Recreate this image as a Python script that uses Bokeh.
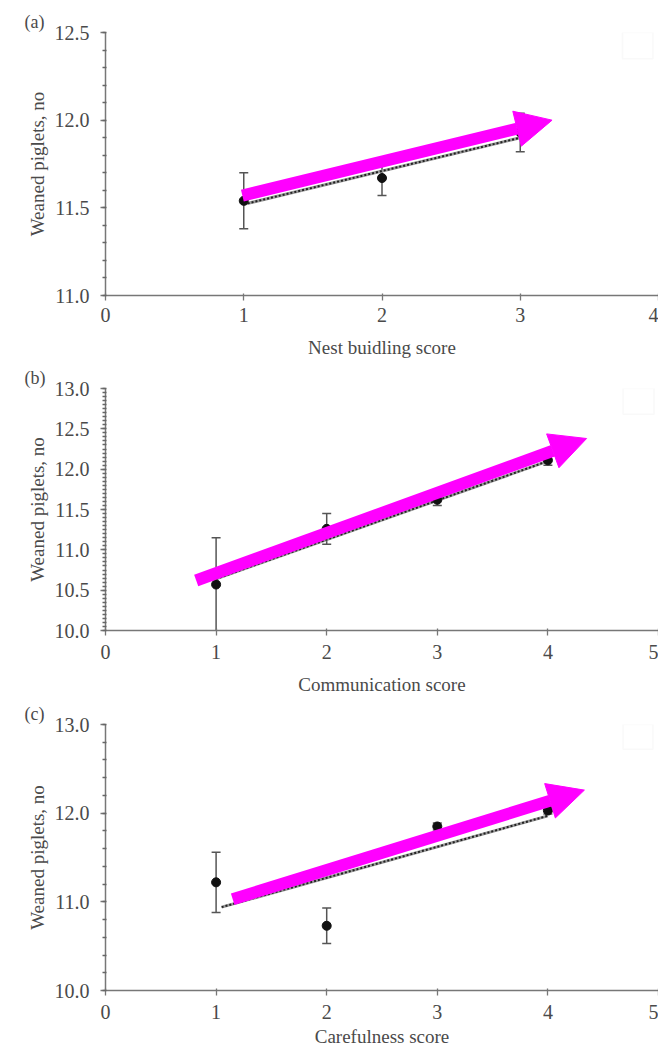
from bokeh.plotting import figure
from bokeh.layouts import column
from bokeh.models import (Range1d, FixedTicker, Whisker, TeeHead, ColumnDataSource,
                          Arrow, NormalHead, Title, BoxAnnotation, NumeralTickFormatter)
from bokeh.embed import file_html
from bokeh.resources import INLINE

# ---------------- data ----------------
# Panel (a) Nest building
a_x = [1, 2, 3]
a_mean = [11.54, 11.67, 11.93]
a_err = [0.16, 0.10, 0.11]
a_fit_x = [1, 3]
a_fit_y = [11.52, 11.90]
a_arrow = [0.99, 11.57, 3.23, 12.0]

# Panel (b) Communication
b_x = [1, 2, 3, 4]
b_mean = [10.57, 11.26, 11.62, 12.11]
b_err = [0.58, 0.19, 0.07, 0.06]
b_fit_x = [1, 4]
b_fit_y = [10.64, 12.10]
b_arrow = [0.82, 10.62, 4.35, 12.38]

# Panel (c) Carefulness
c_x = [1, 2, 3, 4]
c_mean = [11.22, 10.73, 11.85, 12.03]
c_err = [0.34, 0.20, 0.04, 0.04]
c_fit_x = [1.05, 4]
c_fit_y = [10.94, 11.97]
c_arrow = [1.15, 11.03, 4.33, 12.26]

y_label = "Weaned piglets, no"
x_labels = ["Nest buidling score", "Communication score", "Carefulness score"]
tags = ["(a)", "(b)", "(c)"]

FONT = "Liberation Serif"
TXT = "#4a4a4a"
AX = "#777777"
MAG = "#ff00ff"


def panel(xs, mean, err, fit_x, fit_y, arr, tag, xlabel, xmax, ymin, ymax,
          yticks, yminor, height, btop, bbot, legend_box,
          lbl_standoff, ax_standoff):
    p = figure(width=658, height=height, output_backend="svg", toolbar_location=None,
               x_range=Range1d(0, xmax), y_range=Range1d(ymin, ymax),
               min_border_left=105, min_border_right=0,
               min_border_top=btop, min_border_bottom=bbot)
    p.outline_line_color = None
    p.xgrid.visible = False
    p.ygrid.visible = False

    p.add_layout(Title(text=tag, align="left", offset=-81, standoff=2,
                       text_font=FONT, text_font_size="18px", text_font_style="normal",
                       text_color=TXT), "above")

    p.xaxis.ticker = FixedTicker(ticks=list(range(0, xmax + 1)))
    p.yaxis.ticker = FixedTicker(ticks=yticks, minor_ticks=yminor)
    p.yaxis.formatter = NumeralTickFormatter(format="0.0")
    for ax in (p.xaxis, p.yaxis):
        ax.axis_line_color = AX
        ax.axis_line_width = 1.5
        ax.major_tick_line_color = AX
        ax.major_tick_line_width = 1.3
        ax.major_tick_out = 5
        ax.major_label_text_font = FONT
        ax.major_label_text_font_size = "20px"
        ax.major_label_text_color = TXT
        ax.axis_label_text_font = FONT
        ax.axis_label_text_font_size = "19px"
        ax.axis_label_text_font_style = "normal"
        ax.axis_label_text_color = TXT
    p.xaxis.major_tick_in = 2
    p.xaxis.minor_tick_line_color = None
    p.yaxis.major_tick_in = 0
    p.yaxis.minor_tick_line_color = "#666666"
    p.yaxis.minor_tick_line_width = 1.3
    p.yaxis.minor_tick_out = 3
    p.yaxis.minor_tick_in = 1
    p.yaxis.major_label_standoff = 11
    p.xaxis.major_label_standoff = lbl_standoff
    p.xaxis.axis_label_standoff = ax_standoff
    p.yaxis.axis_label_standoff = 4
    p.xaxis.axis_label = xlabel
    p.yaxis.axis_label = y_label

    # faint empty legend box
    lx0, lx1, ly0, ly1 = legend_box
    p.add_layout(BoxAnnotation(left=lx0, right=lx1, bottom=ly0, top=ly1,
                               fill_alpha=0, line_color="#ececec", line_width=1.5))

    # regression dotted line
    p.line(fit_x, fit_y, line_color="#9a9a9a", line_width=3)
    p.line(fit_x, fit_y, line_color="#222222", line_width=2, line_dash="2 2")

    src = ColumnDataSource(dict(x=xs, y=mean,
                                lo=[m - e for m, e in zip(mean, err)],
                                hi=[m + e for m, e in zip(mean, err)]))
    p.add_layout(Whisker(base="x", lower="lo", upper="hi", source=src,
                         line_color="#555555", line_width=1.5,
                         upper_head=TeeHead(size=9, line_color="#555555", line_width=1.5),
                         lower_head=TeeHead(size=9, line_color="#555555", line_width=1.5)))
    p.scatter("x", "y", source=src, size=9, color="#111111")

    # magenta arrow
    p.add_layout(Arrow(x_start=arr[0], y_start=arr[1], x_end=arr[2], y_end=arr[3],
                       line_color=MAG, line_width=12,
                       end=NormalHead(size=36, fill_color=MAG, line_color=MAG)))
    return p


pa = panel(a_x, a_mean, a_err, a_fit_x, a_fit_y, a_arrow, tags[0], x_labels[0],
           4, 11.0, 12.5, [11.0, 11.5, 12.0, 12.5],
           [round(11.0 + 0.1 * i, 2) for i in range(16)],
           360, 32, 65, (3.74, 3.96, 12.35, 12.5), 7, 12)
pb = panel(b_x, b_mean, b_err, b_fit_x, b_fit_y, b_arrow, tags[1], x_labels[1],
           5, 10.0, 13.0, [10.0, 10.5, 11.0, 11.5, 12.0, 12.5, 13.0],
           [round(10.0 + 0.05 * i, 2) for i in range(61)],
           340, 28, 70, (4.68, 4.96, 12.68, 13.0), 9, 12)
pc = panel(c_x, c_mean, c_err, c_fit_x, c_fit_y, c_arrow, tags[2], x_labels[2],
           5, 10.0, 13.0, [10.0, 11.0, 12.0, 13.0],
           [round(10.0 + 0.2 * i, 2) for i in range(16)],
           350, 22, 60, (4.68, 4.95, 12.72, 13.0), 9, 4)

layout = column(pa, pb, pc, spacing=0)
open("out.html", "w").write(file_html(layout, INLINE))
